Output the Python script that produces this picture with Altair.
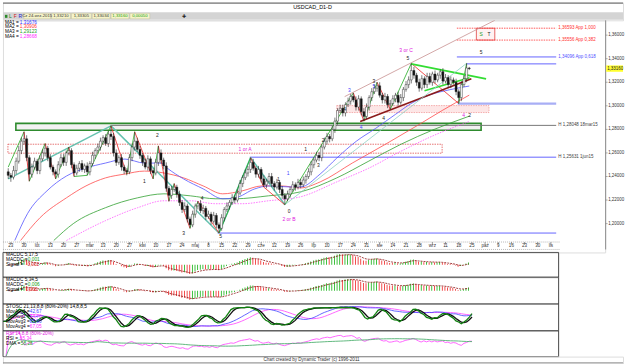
import altair as alt
import pandas as pd

FONT = "Liberation Sans"
PX_DAY = 2.70
X0 = -0.11
MAIN_W = 607
PLOT_H = 223          # price area height
MAIN_H = 234          # price area + date-label band
SUB_W = 560
SUB_H = [25, 27, 27, 26]
P_LO, P_HI = 1.1848, 1.3726
PXP = (P_HI - P_LO) / PLOT_H

# ---------------- data ----------------
tick_labels = ["23", "30", "lut", "13", "20", "27", "mar", "13", "20", "27", "kwi", "10", "17", "24",
               "maj", "8", "15", "22", "29", "cze", "12", "19", "26", "lip", "10", "17", "24", "31",
               "sie", "14", "21", "28", "wrz", "11", "18", "25", "paź", "9", "16", "23", "30", "lis"]
tick_days = [1 + 5 * k for k in range(len(tick_labels))]
price_ticks = [1.20, 1.22, 1.24, 1.26, 1.28, 1.30, 1.32, 1.34, 1.36]
price_tick_labels = ["1,20000", "1,22000", "1,24000", "1,26000", "1,28000", "1,30000", "1,32000",
                     "1,34000", "1,36000"]

first_open = 1.2440
closes = [
    1.2410, 1.2395, 1.2450, 1.2530, 1.2620, 1.2700, 1.2720, 1.2560, 1.2420, 1.2480,
    1.2530, 1.2450, 1.2550, 1.2600, 1.2640, 1.2560, 1.2480, 1.2440, 1.2420, 1.2500,
    1.2560, 1.2520, 1.2600, 1.2620, 1.2500, 1.2430, 1.2470, 1.2510, 1.2460, 1.2490,
    1.2440, 1.2510, 1.2580, 1.2620, 1.2650, 1.2700, 1.2730, 1.2680, 1.2760, 1.2740,
    1.2600, 1.2520, 1.2560, 1.2480, 1.2450, 1.2440, 1.2560, 1.2650, 1.2700, 1.2630,
    1.2580, 1.2520, 1.2480, 1.2550, 1.2450, 1.2430, 1.2520, 1.2600, 1.2540, 1.2490,
    1.2300, 1.2240, 1.2290, 1.2310, 1.2250, 1.2180, 1.2120, 1.2150, 1.2040, 1.1990,
    1.2080, 1.2150, 1.2170, 1.2110, 1.2130, 1.2060, 1.2080, 1.2020, 1.2070, 1.1990,
    1.1960, 1.2050, 1.2120, 1.2150, 1.2180, 1.2220, 1.2200, 1.2260, 1.2340, 1.2390,
    1.2430, 1.2460, 1.2520, 1.2470, 1.2420, 1.2460, 1.2380, 1.2330, 1.2360, 1.2400,
    1.2340, 1.2310, 1.2350, 1.2290, 1.2240, 1.2210, 1.2250, 1.2290, 1.2330, 1.2310,
    1.2350, 1.2330, 1.2370, 1.2400, 1.2440, 1.2500, 1.2540, 1.2580, 1.2560, 1.2650,
    1.2700, 1.2740, 1.2720, 1.2800, 1.2870, 1.2960, 1.2980, 1.2940, 1.3010, 1.3040,
    1.3080, 1.3050, 1.2990, 1.3060, 1.2950, 1.2910, 1.2990, 1.3070, 1.3120, 1.3150,
    1.3170, 1.3090, 1.3050, 1.3080, 1.3010, 1.3020, 1.3060, 1.3090, 1.3030, 1.3070,
    1.3140, 1.3180, 1.3220, 1.3300, 1.3260, 1.3200, 1.3150, 1.3230, 1.3180, 1.3250,
    1.3200, 1.3270, 1.3220, 1.3260, 1.3290, 1.3210, 1.3240, 1.3180, 1.3220, 1.3200,
    1.3120, 1.3070, 1.3180, 1.3230, 1.3321, 1.3316]
# wick lengths beyond the body, in units of 0.001
wick_up = [
    3, 2, 4, 3, 4, 3, 6, 3, 2, 3, 3, 2, 3, 3, 4, 2, 3, 2, 2, 3,
    3, 3, 2, 3, 2, 2, 3, 2, 3, 2, 3, 2, 3, 2, 3, 3, 2, 3, 3, 7,
    3, 3, 2, 3, 2, 2, 3, 3, 8, 3, 3, 2, 3, 3, 2, 2, 3, 6, 3, 2,
    3, 2, 3, 3, 2, 3, 2, 3, 2, 2, 3, 2, 2, 3, 3, 2, 3, 2, 3, 2,
    2, 3, 2, 3, 2, 3, 2, 3, 3, 2, 3, 3, 4, 3, 2, 3, 2, 3, 2, 3,
    3, 2, 3, 2, 3, 2, 3, 2, 3, 2, 3, 3, 3, 2, 3, 3, 2, 3, 3, 2,
    3, 3, 2, 3, 3, 2, 3, 3, 2, 3, 2, 3, 3, 3, 2, 3, 3, 2, 3, 3,
    3, 3, 2, 3, 2, 3, 3, 2, 3, 3, 2, 3, 3, 6, 3, 2, 3, 3, 2, 3,
    3, 2, 3, 2, 2, 3, 3, 2, 3, 2, 3, 2, 3, 3, 4, 0.95]
wick_dn = [
    3, 4, 2, 3, 2, 3, 3, 3, 6, 3, 2, 3, 3, 2, 3, 3, 2, 3, 4, 3,
    2, 3, 3, 2, 3, 3, 2, 3, 2, 3, 3, 3, 2, 3, 2, 3, 3, 2, 3, 3,
    3, 3, 2, 3, 3, 3, 2, 3, 3, 2, 3, 3, 2, 3, 3, 5, 2, 3, 3, 3,
    3, 5, 3, 2, 3, 3, 3, 2, 3, 3, 2, 3, 3, 2, 3, 3, 2, 3, 2, 3,
    4, 2, 3, 2, 3, 2, 3, 2, 2, 3, 2, 3, 3, 2, 3, 3, 3, 2, 3, 2,
    3, 3, 2, 3, 3, 5, 2, 3, 2, 3, 2, 3, 2, 3, 2, 3, 3, 2, 3, 3,
    2, 3, 3, 2, 3, 3, 2, 3, 3, 2, 3, 2, 3, 3, 3, 4, 2, 3, 3, 2,
    3, 2, 3, 3, 3, 4, 2, 3, 3, 2, 3, 2, 3, 3, 3, 3, 3, 2, 3, 3,
    2, 3, 3, 2, 3, 3, 2, 3, 3, 2, 3, 5, 3, 2, 3, 1.26]

# moving averages (day, price)
ma1_days = [2.5, 7.3, 14.7, 22.1, 29.5, 36.9, 44.3, 51.7, 58.0, 60.3, 66.6, 74.0, 81.4, 86.2,
            93.6, 98.8, 106.2, 111.0, 118.4, 124.7, 132.1, 139.5, 146.9, 152.9, 160.3, 167.7, 175]
ma1_vals = [1.1857, 1.2084, 1.2278, 1.2404, 1.2472, 1.2514, 1.2548, 1.2514, 1.2514, 1.2472, 1.2379,
            1.2295, 1.2211, 1.2219, 1.2295, 1.2320, 1.2312, 1.2312, 1.2421, 1.2556, 1.2699, 1.2809,
            1.2926, 1.3019, 1.3095, 1.3137, 1.3168]
ma2_days = [4.7, 12.1, 22.1, 29.5, 36.9, 44.3, 51.7, 59.1, 66.6, 74.0, 81.4, 88.8, 96.2, 103.6,
            111.0, 118.4, 130.6, 143.2, 155.4, 164.7, 175]
ma2_vals = [1.1857, 1.2051, 1.2219, 1.2320, 1.2388, 1.2421, 1.2446, 1.2430, 1.2388, 1.2320, 1.2253,
            1.2278, 1.2320, 1.2320, 1.2303, 1.2354, 1.2514, 1.2674, 1.2834, 1.2960, 1.3091]
ma3_days = [17.3, 24.7, 36.9, 49.1, 59.1, 69.1, 78.8, 86.2, 98.8, 111.0, 124.7, 136.9, 149.1, 161.7, 175]
ma3_vals = [1.1857, 1.2000, 1.2135, 1.2219, 1.2253, 1.2236, 1.2211, 1.2211, 1.2236, 1.2270, 1.2388,
            1.2531, 1.2674, 1.2800, 1.2912]
ma4_days = [22.1, 36.9, 49.1, 59.1, 69.1, 78.8, 88.8, 98.8, 111.0, 124.7, 136.9, 149.1, 161.7, 175]
ma4_vals = [1.1857, 1.2025, 1.2135, 1.2194, 1.2194, 1.2169, 1.2169, 1.2194, 1.2228, 1.2354, 1.2471,
            1.2615, 1.2750, 1.2867]

# swing points of the short zigzag and the larger teal swings
zz_days = [0, 6, 8, 14, 18, 23, 25, 30, 39, 45, 48, 55, 57, 61, 63, 69, 72, 80, 92, 97, 105,
           131, 135, 140, 145, 153, 171, 174]
zz_vals = [1.2480, 1.2780, 1.2360, 1.2680, 1.2380, 1.2650, 1.2400, 1.2410, 1.2830, 1.2420, 1.2780,
           1.2380, 1.2660, 1.2190, 1.2340, 1.1960, 1.2190, 1.1920, 1.2560, 1.2310, 1.2160,
           1.3110, 1.2870, 1.3200, 1.2970, 1.3360, 1.3020, 1.3361]
teal_days = [0, 39, 80, 92, 105]
teal_vals = [1.2380, 1.2830, 1.1920, 1.2560, 1.2160]

# trend lines: start day, start price, end day, end price
tl_d1 = [133.6, 127.7, 152.9, 158.0, 105]
tl_p1 = [1.2867, 1.3078, 1.3356, 1.3128, 1.2160]
tl_d2 = [175.8, 184.7, 181.4, 175.1, 174]
tl_p2 = [1.3229, 1.3726, 1.3229, 1.3238, 1.3361]
tl_col = ["#8b1a1a", "#c89090", "#33dd33", "#33dd33", "#8fd0c4"]
tl_w = [1.6, 0.8, 1.6, 1.6, 0.8]

# horizontal levels
hl_d1 = [170.3, 170.3, 170.3, 174.0, 170.6, 38.8, 91.7, 79.5]
hl_d2 = [208.0] * 8
hl_p = [1.3659, 1.3558, 1.3415, 1.3356, 1.3019, 1.2834, 1.2564, 1.1920]
hl_col = ["#ff3030", "#ff3030", "#6464ff", "#6464ff", "#a8aef5", "#777777", "#6464ff", "#6464ff"]
hl_w = [0.8, 0.8, 1.0, 1.0, 2.2, 1.0, 1.0, 1.0]
hl_dash = [True, True, False, False, False, False, False, False]

level_labels = ["1,36593 App 1,000", "1,35556 App 0,382", "1,34096 App 0,618",
                "H 1,28048 18mar15", "H 1,25631 1jun15"]
level_prices = [1.3659, 1.3558, 1.3415, 1.2834, 1.2564]
level_colors = ["#ff3030", "#ff3030", "#5050ff", "#444444", "#444444"]

# boxes
bx_d1 = [-0.11, 124.7, 177.7]
bx_d2 = [164.7, 182.5, 184.7]
bx_p1 = [1.2598, 1.2943, 1.3558]
bx_p2 = [1.2674, 1.3002, 1.3659]
green_box = [2.9, 179.5, 1.2792, 1.2851]

# wave labels
wl_text = ["1 or A", "2 or B", "3 or C", "5", "2", "1", "3", "5", "4", "1", "0", "1", "3", "1", "2",
           "4", "3", "4", "3", "5", "4", "4", "2", "5", "S", "T"]
wl_day = [89.9, 106.6, 151.0, 151.7, 56.6, 51.7, 66.6, 80.6, 73.6, 106.2, 106.6, 102.5, 117.7,
          112.9, 119.5, 127.7, 129.5, 134.0, 138.8, 138.8, 142.5, 172.9, 175.1, 179.5, 179.5, 182.5]
wl_price = [1.2632, 1.2042, 1.3474, 1.3406, 1.2750, 1.2362, 1.1924, 1.1891, 1.2219, 1.2430, 1.2110,
            1.2379, 1.2497, 1.2632, 1.2707, 1.2977, 1.3137, 1.2817, 1.3213, 1.3171, 1.2893, 1.2926,
            1.2926, 1.3457, 1.3608, 1.3608]
wl_col = ["#e020e0", "#e020e0", "#e020e0", "#222", "#222", "#222", "#222", "#222", "#222",
          "#4040ff", "#222", "#222", "#222", "#222", "#222", "#222", "#4040ff", "#4040ff", "#222",
          "#4040ff", "#222", "#e020e0", "#222", "#222", "#20a020", "#222"]

ma_legend = [("MA1 =", "1,31676", "#3030ff"), ("MA2 =", "1,30906", "#ff3030"),
             ("MA3 =", "1,29123", "#20a020"), ("MA4 =", "1,28668", "#ff30ff")]
last_price = 1.3316

# ---------------- tables ----------------
n = len(closes)
opens = [first_open] + closes[:-1]
highs = [max(o, c) + u * 0.001 for o, c, u in zip(opens, closes, wick_up)]
lows = [min(o, c) - d * 0.001 for o, c, d in zip(opens, closes, wick_dn)]
candles = pd.DataFrame({"day": list(range(n)), "open": opens, "close": closes,
                        "high": highs, "low": lows})
candles["up"] = candles["close"] >= candles["open"]

one = pd.DataFrame({"a": [0]})

xs_main = alt.Scale(domain=[X0, X0 + MAIN_W / PX_DAY], nice=False, zero=False)
xs_sub = alt.Scale(domain=[X0, X0 + SUB_W / PX_DAY], nice=False, zero=False)
ys_main = alt.Scale(domain=[P_HI - MAIN_H * PXP, P_HI], nice=False, zero=False)


def X(field, scale=xs_main):
    return alt.X(field, scale=scale, axis=None)


def Y(field, scale=ys_main):
    return alt.Y(field, scale=scale, axis=None)


def px_text(text, px, py, color="#000", size=5, align="left"):
    return alt.Chart(one).mark_text(text=text, align=align, baseline="middle", fontSize=size,
                                    font=FONT, color=color).encode(x=alt.value(px), y=alt.value(py))


def px_rule(x1, x2, y1, y2, color="#333", w=1.0, dash=None):
    kw = dict(color=color, strokeWidth=w)
    if dash:
        kw["strokeDash"] = dash
    return alt.Chart(one).mark_rule(**kw).encode(
        x=alt.value(x1), x2=alt.value(x2), y=alt.value(y1), y2=alt.value(y2))


# ---------------- header ----------------
hdr = [
    px_rule(0, 625, 0.6, 0.6, color="#7a7a7a", w=1.2),
    px_text("USDCAD_D1-D", 312, 5, size=5.5, align="center"),
    alt.Chart(one).mark_rect(color="#d4d4d4").encode(
        x=alt.value(0), x2=alt.value(625), y=alt.value(10), y2=alt.value(17.5)),
]
tb_boxes = [(21, 48), (49, 68), (69, 89), (90, 108), (109, 127), (128, 148)]
for a, b in tb_boxes:
    hdr.append(alt.Chart(one).mark_rect(color="#f6f3c8", stroke="#b8b890", strokeWidth=0.4).encode(
        x=alt.value(a), x2=alt.value(b), y=alt.value(11), y2=alt.value(16.5)))
tb_items = [("Cz 24-wrz-2015", 34.5, "#333"), ("1,33210", 58.5, "#333"), ("1,33305", 79, "#333"),
            ("1,33034", 99, "#333"), ("1,33160", 118, "#10a010"), ("0,00050", 138, "#10a010")]
for t, px, col in tb_items:
    hdr.append(px_text(t, px, 13.8, color=col, size=4.3, align="center"))
hdr += [
    alt.Chart(one).mark_rect(color="#2a8a2a").encode(
        x=alt.value(2), x2=alt.value(4.5), y=alt.value(12.5), y2=alt.value(15.5)),
    px_text("L", 7.5, 13.8, color="#208020", size=5, align="center"),
    px_text("F", 12.5, 13.8, color="#d02020", size=5, align="center"),
    px_text("R", 17.5, 13.8, color="#2020d0", size=5, align="center"),
    px_text("✚", 182, 13.8, color="#222", size=5, align="center"),
]
header = alt.layer(*hdr).properties(width=625, height=18)

# ---------------- main price panel ----------------
layers = []
boxes = pd.DataFrame({"d1": bx_d1, "d2": bx_d2, "p1": bx_p1, "p2": bx_p2})
layers.append(alt.Chart(boxes.iloc[[0]]).mark_rect(fillOpacity=0, stroke="#e05050",
                                                   strokeWidth=0.8, strokeDash=[1.5, 1]).encode(
    x=X("d1:Q"), x2="d2:Q", y=Y("p1:Q"), y2="p2:Q"))
layers.append(alt.Chart(boxes.iloc[[1]]).mark_rect(fill="#fde6e6", stroke="#f09090",
                                                   strokeWidth=0.7, strokeDash=[1.5, 1]).encode(
    x=X("d1:Q"), x2="d2:Q", y=Y("p1:Q"), y2="p2:Q"))
layers.append(alt.Chart(boxes.iloc[[2]]).mark_rect(fill="#fff2f2", stroke="#e04040",
                                                   strokeWidth=0.8).encode(
    x=X("d1:Q"), x2="d2:Q", y=Y("p1:Q"), y2="p2:Q"))
gb = pd.DataFrame({"d1": [green_box[0]], "d2": [green_box[1]], "p1": [green_box[2]], "p2": [green_box[3]]})
layers.append(alt.Chart(gb).mark_rect(fill="#f2f2f2", stroke="#2e8b2e", strokeWidth=1.6).encode(
    x=X("d1:Q"), x2="d2:Q", y=Y("p1:Q"), y2="p2:Q"))

hl = pd.DataFrame({"d1": hl_d1, "d2": hl_d2, "p": hl_p, "c": hl_col, "w": hl_w, "dash": hl_dash})
layers.append(alt.Chart(hl[~hl["dash"]]).mark_rule().encode(
    x=X("d1:Q"), x2="d2:Q", y=Y("p:Q"), color=alt.Color("c:N", scale=None),
    strokeWidth=alt.StrokeWidth("w:Q", scale=None)))
layers.append(alt.Chart(hl[hl["dash"]]).mark_rule(strokeDash=[1.5, 1]).encode(
    x=X("d1:Q"), x2="d2:Q", y=Y("p:Q"), color=alt.Color("c:N", scale=None),
    strokeWidth=alt.StrokeWidth("w:Q", scale=None)))

# moving averages
for days, vals, col, dash in [(ma4_days, ma4_vals, "#ff55ff", [1.5, 1.2]),
                              (ma3_days, ma3_vals, "#30a030", None),
                              (ma2_days, ma2_vals, "#ff4a4a", None),
                              (ma1_days, ma1_vals, "#5555ff", None)]:
    df = pd.DataFrame({"day": days, "v": vals})
    kw = dict(color=col, strokeWidth=0.8, clip=True, interpolate="monotone")
    if dash:
        kw["strokeDash"] = dash
    layers.append(alt.Chart(df).mark_line(**kw).encode(x=X("day:Q"), y=Y("v:Q")))

# swings and trend lines
seg_rows = []
for i in range(len(teal_days) - 1):
    seg_rows.append((teal_days[i], teal_vals[i], teal_days[i + 1], teal_vals[i + 1], "#66c2b0", 1.5))
for i in range(len(zz_days) - 1):
    col = "#22aa22" if zz_vals[i + 1] > zz_vals[i] else "#ee2222"
    seg_rows.append((zz_days[i], zz_vals[i], zz_days[i + 1], zz_vals[i + 1], col, 0.8))
for a, b, c, d, col, w in zip(tl_d1, tl_p1, tl_d2, tl_p2, tl_col, tl_w):
    seg_rows.append((a, b, c, d, col, w))
segs = pd.DataFrame(seg_rows, columns=["d1", "p1", "d2", "p2", "c", "w"])
layers.append(alt.Chart(segs).mark_rule(clip=True).encode(
    x=X("d1:Q"), x2="d2:Q", y=Y("p1:Q"), y2="p2:Q", color=alt.Color("c:N", scale=None),
    strokeWidth=alt.StrokeWidth("w:Q", scale=None)))

# candles
layers.append(alt.Chart(candles).mark_rule(color="#222", strokeWidth=0.6).encode(
    x=X("day:Q"), y=Y("low:Q"), y2="high:Q"))
layers.append(alt.Chart(candles).mark_bar(size=2.0, stroke="#222", strokeWidth=0.45).encode(
    x=X("day:Q"), y=Y("open:Q"), y2="close:Q",
    fill=alt.condition("datum.up", alt.value("#ffffff"), alt.value("#111111"))))

# wave labels
wl = pd.DataFrame({"day": wl_day, "p": wl_price, "t": wl_text, "c": wl_col})
layers.append(alt.Chart(wl).mark_text(fontSize=5, font=FONT, align="center", baseline="middle").encode(
    x=X("day:Q"), y=Y("p:Q"), text="t:N", color=alt.Color("c:N", scale=None)))

# level labels at right
ll = pd.DataFrame({"day": [208.8] * len(level_labels), "p": level_prices, "t": level_labels,
                   "c": level_colors})
layers.append(alt.Chart(ll).mark_text(fontSize=4.5, font=FONT, align="left", baseline="middle").encode(
    x=X("day:Q"), y=Y("p:Q"), text="t:N", color=alt.Color("c:N", scale=None)))

# date axis (bottom)
xt = pd.DataFrame({"day": tick_days, "lab": tick_labels})
layers.append(px_rule(0, 562, PLOT_H + 0.5, PLOT_H + 0.5, color="#9a9a9a", w=0.7, dash=[1, 1]))
layers.append(alt.Chart(xt).mark_rule(color="#555", strokeWidth=0.6).encode(
    x=X("day:Q"), y=alt.value(PLOT_H + 0.5), y2=alt.value(PLOT_H + 3)))
layers.append(alt.Chart(xt).mark_text(fontSize=4.6, font=FONT, color="#333", baseline="middle",
                                      align="center").encode(
    x=X("day:Q"), y=alt.value(PLOT_H + 5), text="lab:N"))
layers.append(px_rule(0, 562, PLOT_H + 8, PLOT_H + 8, color="#9a9a9a", w=0.7, dash=[1, 1]))

# price axis (right)
yt = pd.DataFrame({"p": price_ticks, "lab": price_tick_labels})
layers.append(px_rule(MAIN_W + 0.5, MAIN_W + 0.5, 0, PLOT_H + 8, color="#777", w=0.8))
layers.append(alt.Chart(yt).mark_rule(color="#777", strokeWidth=0.6).encode(
    x=alt.value(MAIN_W + 0.5), x2=alt.value(MAIN_W + 2.5), y=Y("p:Q")))
layers.append(alt.Chart(yt).mark_text(fontSize=4.5, font=FONT, color="#333", baseline="middle",
                                      align="left").encode(
    x=alt.value(MAIN_W + 3), y=Y("p:Q"), text="lab:N"))

# current price tag
tag = pd.DataFrame({"p": [last_price], "p1": [last_price - 0.0027], "p2": [last_price + 0.0027],
                    "t": ["1,33160"]})
layers.append(alt.Chart(tag).mark_rect(color="#ffff30").encode(
    x=alt.value(MAIN_W + 1), x2=alt.value(MAIN_W + 18), y=Y("p1:Q"), y2="p2:Q"))
layers.append(alt.Chart(tag).mark_text(fontSize=4.5, font=FONT, align="left", baseline="middle",
                                       color="#222").encode(
    x=alt.value(MAIN_W + 2), y=Y("p:Q"), text="t:N"))

# MA legend
for i, (lab, val, col) in enumerate(ma_legend):
    yy = 2.5 + i * 4.7
    layers.append(px_text(lab, 2, yy, size=4.8))
    layers.append(px_text(val, 17, yy, color=col, size=4.8))

main = alt.layer(*layers).properties(width=MAIN_W, height=MAIN_H)

# ---------------- indicator panels ----------------
c = pd.Series(closes)
hi = pd.Series(highs)
lo = pd.Series(lows)


def ema(s, k):
    return s.ewm(span=k, adjust=False).mean()


def border(h):
    return alt.Chart(one).mark_rect(fillOpacity=0, stroke="#333", strokeWidth=0.8).encode(
        x=alt.value(0), x2=alt.value(SUB_W), y=alt.value(0), y2=alt.value(h))


def macd_panel(fast, slow, sig, h, title, mval, sval):
    m = ema(c, fast) - ema(c, slow)
    s = ema(m, sig)
    df = pd.DataFrame({"day": list(range(n)), "v": m, "s": s})
    df["col"] = ["#10b010" if i > 0 and m[i] >= m[i - 1] else "#ee2020" for i in range(n)]
    lim = float(max(m.abs().max(), s.abs().max())) * 1.15
    ys = alt.Scale(domain=[-lim, lim], nice=False, zero=False)
    L = [
        alt.Chart(df).mark_bar(size=0.8).encode(
            x=X("day:Q", scale=xs_sub), y=alt.Y("v:Q", scale=ys, axis=None), y2=alt.datum(0),
            color=alt.Color("col:N", scale=None)),
        alt.Chart(df).mark_line(color="#8b1010", strokeWidth=0.8, strokeDash=[2, 1]).encode(
            x=X("day:Q", scale=xs_sub), y=alt.Y("s:Q", scale=ys, axis=None)),
        px_text(title, 3, 3, size=4.8),
        px_text("MACDC =", 3, 8, size=4.8), px_text(mval, 25, 8, color="#10a010", size=4.8),
        px_text("Signal =", 3, 13, size=4.8), px_text(sval, 23, 13, color="#d02020", size=4.8),
        border(h),
    ]
    return alt.layer(*L).properties(width=SUB_W, height=h)


p1 = macd_panel(5, 17, 5, SUB_H[0], "MACDC 5,17,5", "0,001", "-0,002")
p2 = macd_panel(5, 34, 5, SUB_H[1], "MACDC 5,34,5", "0,006", "0,002")


def stoch(k):
    ll_ = lo.rolling(k, min_periods=1).min()
    hh_ = hi.rolling(k, min_periods=1).max()
    return 100 * (c - ll_) / (hh_ - ll_)


k_fast = stoch(8).rolling(5, min_periods=1).mean()
d_fast = k_fast.rolling(3, min_periods=1).mean()
k_slow = stoch(21).rolling(13, min_periods=1).mean()
d_slow = k_slow.rolling(8, min_periods=1).mean()
st = pd.DataFrame({"day": list(range(n)), "kf": k_fast, "df": d_fast, "ks": k_slow, "ds": d_slow})
ys3 = alt.Scale(domain=[-6, 106], nice=False, zero=False)
L3 = []
for fld, col, w in [("ds", "#ff40ff", 0.8), ("ks", "#4040ff", 0.8), ("df", "#111111", 1.3),
                    ("kf", "#108010", 1.3)]:
    L3.append(alt.Chart(st).mark_line(color=col, strokeWidth=w).encode(
        x=X("day:Q", scale=xs_sub), y=alt.Y(fld + ":Q", scale=ys3, axis=None)))
L3 += [
    px_text("STOSC 21,13,8,8 (80%-20%) 14,8,8,5", 3, 3, size=4.8),
    px_text("MovAvg1 =", 3, 8, size=4.8), px_text("42,67", 27, 8, color="#4040ff", size=4.8),
    px_text("MovAvg2 =", 3, 13, size=4.8), px_text("24,70", 27, 13, color="#ff30ff", size=4.8),
    px_text("MovAvg3 =", 3, 18, size=4.8), px_text("85,90", 27, 18, color="#4040ff", size=4.8),
    px_text("MovAvg4 =", 3, 23, size=4.8), px_text("67,05", 27, 23, color="#ff30ff", size=4.8),
    border(SUB_H[2]),
]
p3 = alt.layer(*L3).properties(width=SUB_W, height=SUB_H[2])

delta = c.diff().fillna(0)
gain = delta.clip(lower=0).ewm(alpha=1 / 14, adjust=False).mean()
loss = (-delta.clip(upper=0)).ewm(alpha=1 / 14, adjust=False).mean()
rsi = (100 - 100 / (1 + gain / loss.where(loss > 0, 1e-9))).clip(0, 100)
dma = rsi.rolling(34, min_periods=1).mean()
rs = pd.DataFrame({"day": list(range(n)), "rsi": rsi, "dma": dma})
ys4 = alt.Scale(domain=[0, 100], nice=False, zero=False)
L4 = [
    alt.Chart(rs).mark_line(color="#ff55ff", strokeWidth=0.9, clip=True).encode(
        x=X("day:Q", scale=xs_sub), y=alt.Y("rsi:Q", scale=ys4, axis=None)),
    alt.Chart(rs).mark_line(color="#50b070", strokeWidth=0.9, clip=True).encode(
        x=X("day:Q", scale=xs_sub), y=alt.Y("dma:Q", scale=ys4, axis=None)),
    px_text("RSI 14,8,8 (80%-20%)", 3, 3, color="#e020e0", size=4.8),
    px_text("RSI =", 3, 8, size=4.8), px_text("65,34", 17, 8, color="#ff30ff", size=4.8),
    px_text("DMA =", 3, 13, size=4.8), px_text("58,28", 18, 13, color="#20a020", size=4.8),
    border(SUB_H[3]),
]
p4 = alt.layer(*L4).properties(width=SUB_W, height=SUB_H[3])

# ---------------- footer ----------------
footer = alt.layer(
    px_text("Chart created by Dynamic Trader (c) 1996-2011", 311, 3, size=4.6, align="center",
            color="#333"),
    px_rule(0, 625, 6.3, 6.3, color="#8a8a8a", w=1),
).properties(width=625, height=7)

chart = alt.vconcat(header, main, p1, p2, p3, p4, footer, spacing=0, bounds="flush").properties(
    padding={"left": 0, "top": 0, "right": 0, "bottom": 0}
).configure_view(stroke="transparent").configure(background="#ffffff")

chart.save("out.html", embed_options={"renderer": "svg", "actions": False})
